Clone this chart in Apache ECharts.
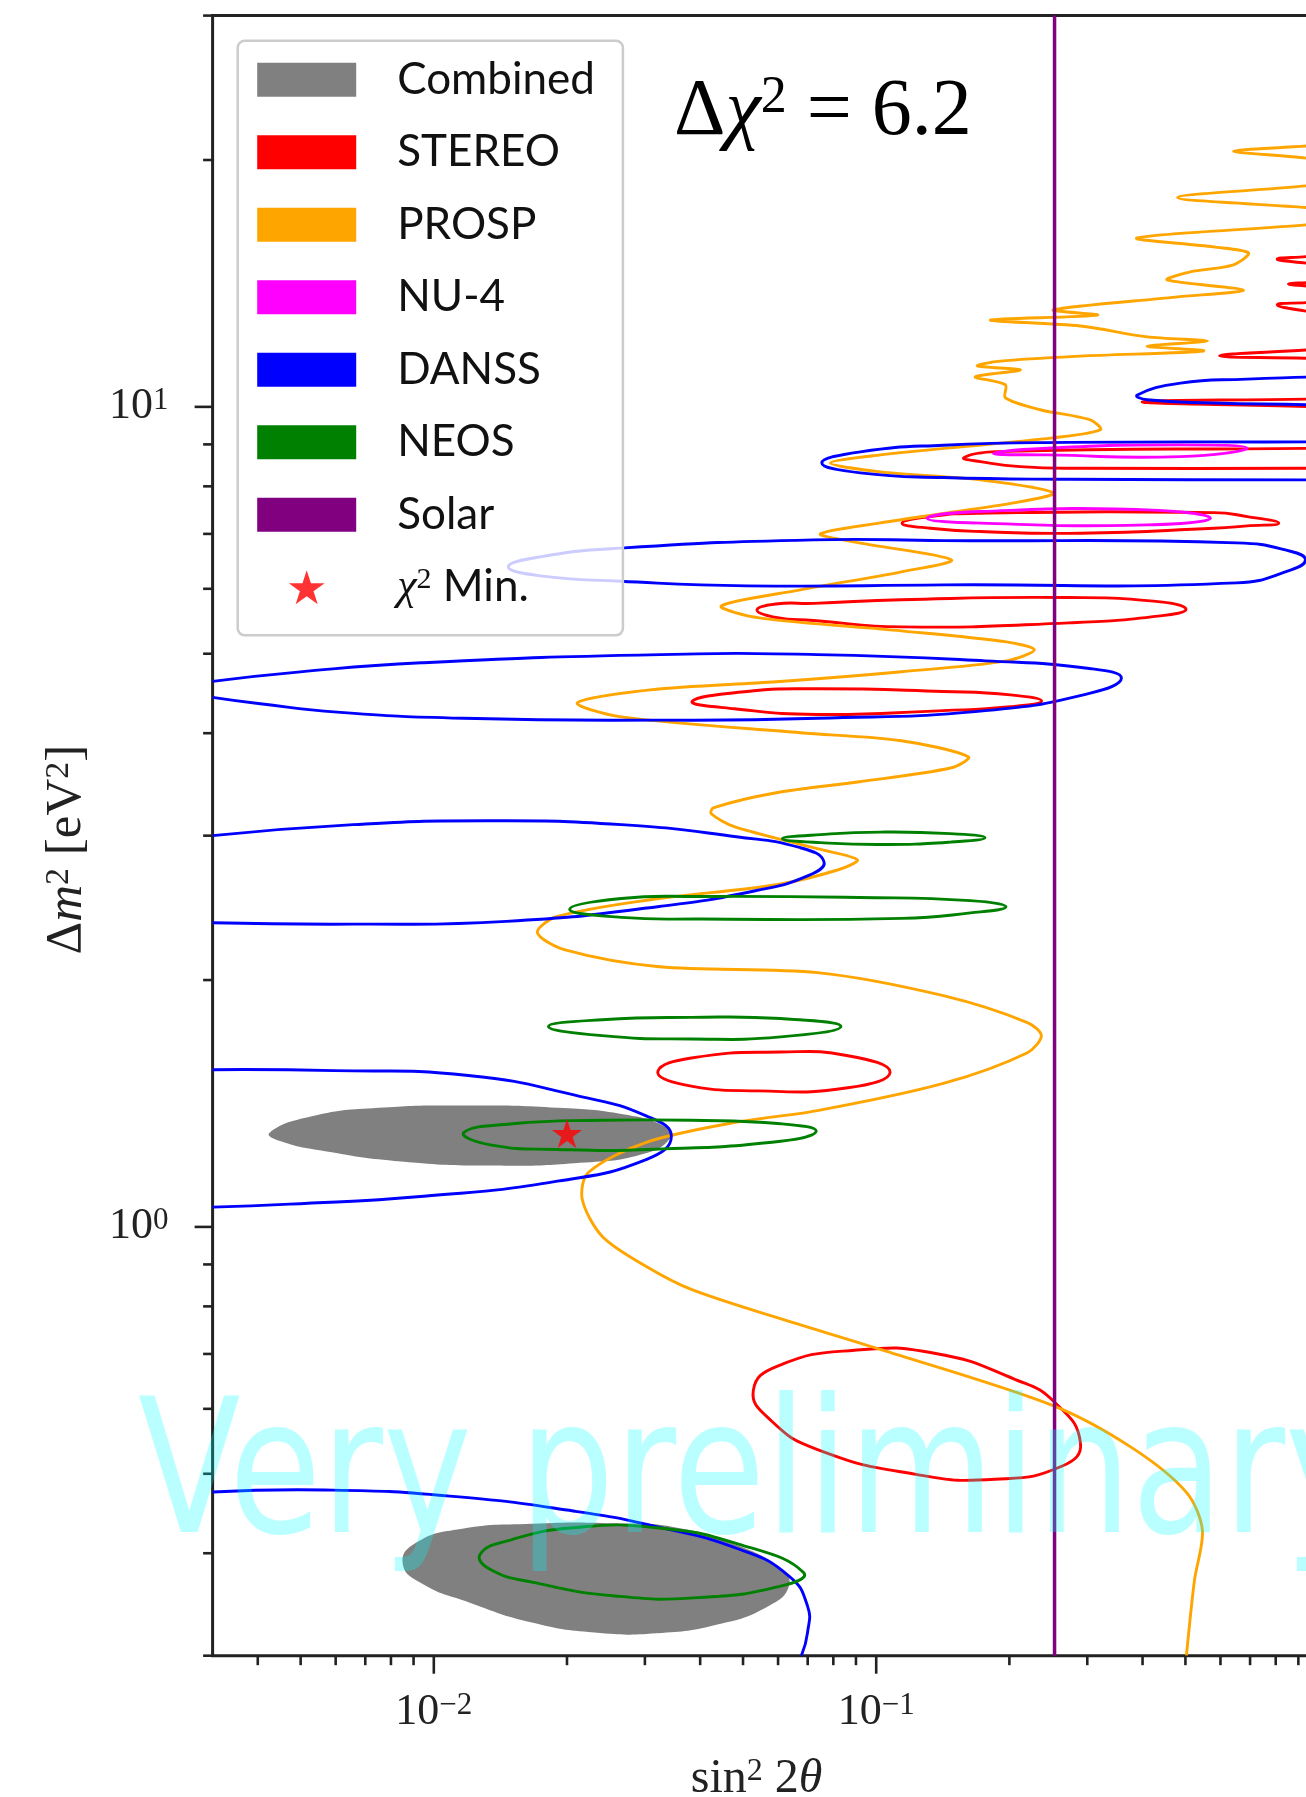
<!DOCTYPE html>
<html><head><meta charset="utf-8">
<script src="https://cdn.jsdelivr.net/npm/echarts@6/dist/echarts.min.js"></script>
<style>html,body{margin:0;padding:0;background:#fff}#c{width:1306px;height:1797px}</style>
</head><body><div id="c"></div>
<script>
// ---------- axis ranges & ticks ----------
const X_MIN = 0.003162, X_MAX = 1;
const Y_MIN = 0.3, Y_MAX = 30;
const X_MAJOR_TICKS = [0.01, 0.1];
const X_MINOR_TICKS = [0.004,0.005,0.006,0.007,0.008,0.009,0.02,0.03,0.04,0.05,0.06,0.07,0.08,0.09,0.2,0.3,0.4,0.5,0.6,0.7,0.8,0.9];
const Y_MAJOR_TICKS = [1, 10];
const Y_MINOR_TICKS = [0.3,0.4,0.5,0.6,0.7,0.8,0.9,2,3,4,5,6,7,8,9,20,30];

// ---------- single values ----------
const SOLAR_X = 0.253;
const CHI2_MIN = [0.02, 1.30];

// ---------- Combined (filled) ----------
const combinedA = [[0.00425,1.302],[0.0053,1.364],[0.00751,1.397],[0.01196,1.406],[0.01903,1.397],[0.02697,1.371],[0.03323,1.327],[0.03443,1.290],[0.03029,1.231],[0.02138,1.197],[0.01343,1.188],[0.00844,1.202],[0.00568,1.237],[0.00451,1.272]];
const combinedB = [[0.0085,0.3896],[0.00911,0.4119],[0.0113,0.4277],[0.01667,0.4346],[0.02567,0.435],[0.03548,0.4297],[0.04905,0.4081],[0.0608,0.3823],[0.06352,0.3648],[0.05702,0.3448],[0.04401,0.3277],[0.03185,0.3195],[0.02305,0.3201],[0.01667,0.3292],[0.01206,0.3481],[0.00931,0.3684]];

// ---------- STEREO ----------
const stereoA = [[0.99,15.28],[0.939,15.25],[0.806,15.14],[0.939,14.97],[0.99,14.94]];
const stereoB = [[0.99,14.18],[0.939,14.17],[0.855,14.12],[0.939,14.04],[0.99,14.03]];
const stereoC = [[0.99,13.41],[0.939,13.40],[0.806,13.32],[0.939,13.08],[0.99,13.07]];
const stereoD = [[0.99,11.73],[0.939,11.73],[0.597,11.54],[0.939,11.46],[0.99,11.45]];
const stereoE = [[0.99,10.22],[0.939,10.22],[0.399,10.14],[0.939,10.01],[0.99,10.0]];
const stereoF = [[0.99,8.91],[0.939,8.90],[0.1876,8.82],[0.1578,8.67],[0.172,8.576],[0.2118,8.455],[0.2895,8.417],[0.939,8.417],[0.99,8.417]];
const stereoG = [[0.1144,7.214],[0.1326,7.349],[0.172,7.419],[0.5794,7.431],[0.6894,7.349],[0.8126,7.214],[0.6894,7.159],[0.5794,7.112],[0.2895,7.014],[0.172,7.046],[0.1326,7.112]];
const stereoH = [[0.05377,5.652],[0.0593,5.749],[0.07224,5.760],[0.1140,5.819],[0.2725,5.854],[0.4389,5.783],[0.5016,5.664],[0.4389,5.561],[0.2725,5.453],[0.1140,5.391],[0.07224,5.489],[0.0593,5.536]];
const stereoI = [[0.03836,4.374],[0.05104,4.497],[0.07361,4.531],[0.1418,4.497],[0.2010,4.455],[0.2365,4.378],[0.2010,4.308],[0.1418,4.262],[0.07361,4.216],[0.04778,4.284]];
const stereoJ = [[0.0321,1.548],[0.0382,1.607],[0.06082,1.634],[0.08631,1.617],[0.1075,1.544],[0.08631,1.478],[0.05413,1.465],[0.03647,1.492]];
const stereoK = [[0.05275,0.632],[0.05985,0.6766],[0.08931,0.7074],[0.1363,0.7009],[0.2058,0.6518],[0.2528,0.6115],[0.2895,0.5454],[0.2634,0.511],[0.1857,0.4923],[0.123,0.4992],[0.07343,0.5355],[0.05747,0.5825]];

// ---------- PROSP ----------
const prosp = [[0.99,20.9],[0.939,20.8],[0.642,20.5],[0.939,20.1],[0.99,19.9],[0.99,18.7],[0.939,18.6],[0.480,18.0],[0.939,17.5],[0.99,17.45],[0.99,16.8],[0.939,16.67],[0.389,16.07],[0.5785,15.67],[0.694,15.41],[0.642,14.90],[0.513,14.61],[0.455,14.28],[0.676,13.88],[0.475,13.61],[0.2515,13.13],[0.3162,12.94],[0.1812,12.76],[0.2895,12.55],[0.410,12.17],[0.5607,12.03],[0.410,11.86],[0.5491,11.70],[0.2895,11.53],[0.1909,11.37],[0.1693,11.22],[0.2118,11.09],[0.1675,10.88],[0.1959,10.64],[0.1959,10.26],[0.235,9.92],[0.3049,9.64],[0.3212,9.376],[0.2502,9.165],[0.1471,8.912],[0.1022,8.739],[0.07877,8.544],[0.1022,8.332],[0.172,8.146],[0.2515,7.853],[0.2042,7.636],[0.1448,7.425],[0.1022,7.22],[0.07477,7.0],[0.0916,6.826],[0.1479,6.508],[0.114,6.293],[0.06738,5.982],[0.04465,5.719],[0.05442,5.53],[0.114,5.332],[0.1969,5.17],[0.2278,5.055],[0.1969,4.901],[0.114,4.753],[0.05945,4.621],[0.03086,4.518],[0.02111,4.356],[0.02654,4.188],[0.06738,4.005],[0.114,3.916],[0.1615,3.744],[0.1479,3.63],[0.0916,3.49],[0.05945,3.384],[0.04283,3.244],[0.04239,3.19],[0.04778,3.076],[0.07361,2.892],[0.09064,2.804],[0.0821,2.726],[0.05945,2.614],[0.03086,2.506],[0.01892,2.389],[0.01714,2.285],[0.01972,2.178],[0.03234,2.076],[0.07361,2.042],[0.1418,1.914],[0.2197,1.775],[0.2362,1.711],[0.2197,1.631],[0.1418,1.496],[0.07361,1.386],[0.04803,1.341],[0.03022,1.268],[0.02235,1.165],[0.02166,1.08],[0.02404,0.9735],[0.03022,0.8948],[0.0382,0.839],[0.05945,0.7755],[0.1022,0.709],[0.2502,0.6059],[0.3774,0.5385],[0.5026,0.4746],[0.5462,0.4267],[0.524,0.3707],[0.5026,0.3]];

// ---------- NU-4 ----------
const nu4A = [[0.1841,8.775],[0.2433,8.904],[0.4872,8.987],[0.6894,8.904],[0.4872,8.697],[0.2433,8.738]];
const nu4B = [[0.1303,7.315],[0.172,7.453],[0.4096,7.488],[0.5695,7.315],[0.4096,7.180],[0.172,7.214]];

// ---------- DANSS ----------
const danssA = [[0.99,10.88],[0.939,10.87],[0.6894,10.81],[0.4872,10.69],[0.3894,10.34],[0.4096,10.20],[0.5794,10.11],[0.939,10.06],[0.99,10.04]];
const danssB = [[0.99,9.063],[0.939,9.063],[0.2719,9.05],[0.1418,8.98],[0.0921,8.812],[0.07535,8.544],[0.0921,8.309],[0.1418,8.20],[0.2719,8.16],[0.939,8.146],[0.99,8.146]];
const danssC = [[0.01473,6.381],[0.01741,6.563],[0.0264,6.725],[0.0721,6.884],[0.1418,6.869],[0.652,6.825],[0.8637,6.667],[0.934,6.508],[0.8637,6.322],[0.652,6.101],[0.1418,6.067],[0.05112,6.050],[0.0264,6.129],[0.01741,6.222]];
const danssD = [[0.003162,4.627],[0.004991,4.752],[0.00937,4.874],[0.0325,4.988],[0.07361,4.988],[0.1765,4.901],[0.3033,4.797],[0.3583,4.669],[0.3033,4.473],[0.1765,4.262],[0.07361,4.171],[0.0325,4.149],[0.01166,4.171],[0.00605,4.244],[0.004053,4.344],[0.003162,4.423]];
const danssE = [[0.003162,3.000],[0.006576,3.094],[0.01321,3.128],[0.02654,3.094],[0.04828,2.991],[0.06738,2.900],[0.07618,2.789],[0.07062,2.685],[0.05329,2.570],[0.03234,2.459],[0.01458,2.358],[0.006576,2.340],[0.003162,2.349]];
const danssF = [[0.003162,1.555],[0.005956,1.551],[0.01196,1.530],[0.02137,1.443],[0.03029,1.365],[0.03443,1.290],[0.03029,1.209],[0.01903,1.137],[0.00949,1.090],[0.00472,1.066],[0.003162,1.057]];
const danssG = [[0.003162,0.475],[0.005667,0.4778],[0.01087,0.4696],[0.02067,0.4504],[0.03184,0.4311],[0.04904,0.4045],[0.0635,0.3752],[0.06995,0.3448],[0.06995,0.3201],[0.06774,0.3]];

// ---------- NEOS ----------
const neosA = [[0.06136,2.975],[0.07477,3.009],[0.1022,3.030],[0.1471,3.017],[0.1762,2.982],[0.1471,2.946],[0.1022,2.926],[0.07477,2.942]];
const neosB = [[0.02028,2.440],[0.02654,2.515],[0.04003,2.529],[0.0916,2.522],[0.1632,2.500],[0.1965,2.457],[0.1632,2.415],[0.1140,2.378],[0.04003,2.374],[0.02654,2.385]];
const neosC = [[0.01816,1.756],[0.02401,1.789],[0.0382,1.801],[0.06082,1.795],[0.08323,1.756],[0.06082,1.705],[0.0382,1.695],[0.02401,1.711]];
const neosD = [[0.01169,1.303],[0.01508,1.336],[0.02401,1.349],[0.0382,1.349],[0.06082,1.336],[0.07319,1.309],[0.06082,1.272],[0.03029,1.243],[0.01903,1.243],[0.01343,1.259]];
const neosE = [[0.01273,0.3989],[0.01496,0.4154],[0.02067,0.4297],[0.03184,0.4297],[0.04904,0.4102],[0.0685,0.3789],[0.06082,0.3648],[0.03949,0.3531],[0.02566,0.3548],[0.01667,0.3688],[0.01343,0.3821]];

// ---------- groupings ----------
const COMBINED_SHAPES = [{closed:true, pts:combinedA},{closed:true, pts:combinedB}];
const STEREO_SHAPES = [{closed:false,pts:stereoA},{closed:false,pts:stereoB},{closed:false,pts:stereoC},{closed:false,pts:stereoD},{closed:false,pts:stereoE},{closed:false,pts:stereoF},{closed:true,pts:stereoG},{closed:true,pts:stereoH},{closed:true,pts:stereoI},{closed:true,pts:stereoJ},{closed:true,pts:stereoK}];
const PROSP_SHAPES = [{closed:false, pts:prosp, smooth:0.3}];
const NU4_SHAPES = [{closed:true,pts:nu4A},{closed:true,pts:nu4B}];
const DANSS_SHAPES = [{closed:false,pts:danssA},{closed:false,pts:danssB},{closed:true,pts:danssC},{closed:false,pts:danssD},{closed:false,pts:danssE},{closed:false,pts:danssF},{closed:false,pts:danssG}];
const NEOS_SHAPES = [{closed:true,pts:neosA},{closed:true,pts:neosB},{closed:true,pts:neosC},{closed:true,pts:neosD},{closed:true,pts:neosE}];

const STAR = 'path://M50,0L61.2,34.5L97.6,34.5L68.2,55.9L79.4,90.5L50,69.1L20.6,90.5L31.8,55.9L2.4,34.5L38.8,34.5Z';
const SERIF = "Liberation Serif";
const SANS = "Lato";

function contourSeries(name, color, shapes, filled, z) {
  return {
    name: name, type: 'custom', coordinateSystem: 'cartesian2d', clip: true, silent: true, z: z,
    itemStyle: { color: color },
    data: shapes.map(s => [s.pts[0][0], s.pts[0][1]]),
    renderItem: function (params, api) {
      const s = shapes[params.dataIndex];
      const points = s.pts.map(p => api.coord(p));
      const sm = s.smooth != null ? s.smooth : 0.5;
      if (filled) {
        return { type: 'polygon', shape: { points: points, smooth: sm }, style: { fill: color, stroke: 'none' } };
      }
      return { type: s.closed ? 'polygon' : 'polyline', shape: { points: points, smooth: sm },
               style: { fill: 'none', stroke: color, lineWidth: 2.9 } };
    }
  };
}
function tickSeries(values, axis, len) {
  return {
    type: 'custom', coordinateSystem: 'cartesian2d', clip: false, silent: true, z: 12,
    data: values.map(v => axis === 'x' ? [v, Y_MIN] : [X_MIN, v]),
    renderItem: function (params, api) {
      const p = api.coord([api.value(0), api.value(1)]);
      const shape = axis === 'x' ? {x1:p[0], y1:p[1], x2:p[0], y2:p[1] + len}
                                 : {x1:p[0], y1:p[1], x2:p[0] - len, y2:p[1]};
      return { type: 'line', shape: shape, style: { stroke: '#222', lineWidth: 2.6 } };
    }
  };
}
function decadeLabel(v, allowed) {
  const l = Math.log10(v); const e = Math.round(l);
  if (Math.abs(l - e) > 1e-6 || allowed.indexOf(e) < 0) return '';
  return '{b|10}{s|' + (e < 0 ? '\u2212' + (-e) : e) + '}';
}
const labelRich = {
  b: { fontFamily: SERIF, fontSize: 44, lineHeight: 44, verticalAlign: 'bottom', color: '#222' },
  s: { fontFamily: SERIF, fontSize: 31, lineHeight: 14, verticalAlign: 'top', color: '#222' }
};

const chart = echarts.init(document.getElementById('c'), null, { renderer: 'canvas' });
chart.setOption({
  animation: false,
  backgroundColor: '#fff',
  title: {
    text: '{t|\u0394}{i|\u03c7}{s|2}{t| = 6.2}', left: 674, top: 72.5, padding: 0, z: 30,
    textStyle: { fontFamily: SERIF, fontSize: 80, fontWeight: 'normal', color: '#000',
      rich: {
        t: { fontFamily: SERIF, fontSize: 80, fontWeight: 'normal', lineHeight: 80, verticalAlign: 'bottom', color: '#000' },
        i: { fontFamily: SERIF, fontSize: 80, fontWeight: 'normal', fontStyle: 'italic', lineHeight: 80, verticalAlign: 'bottom', color: '#000' },
        s: { fontFamily: SERIF, fontSize: 52, fontWeight: 'normal', lineHeight: 36, verticalAlign: 'top', color: '#000' } } }
  },
  grid: { left: 212.6, top: 15.6, right: -12.6, bottom: 141.3, show: true, borderColor: '#222', borderWidth: 3,
          backgroundColor: 'transparent', containLabel: false, outerBoundsMode: 'none' },
  xAxis: {
    type: 'log', logBase: 10, min: X_MIN, max: X_MAX,
    axisLine: { show: false }, axisTick: { show: false }, minorTick: { show: false }, splitLine: { show: false },
    axisLabel: { margin: 35, formatter: v => decadeLabel(v, [-2, -1]), rich: labelRich, showMinLabel: true, showMaxLabel: true },
    name: '{t|sin}{s|2}{t| 2}{i|\u03b8}', nameLocation: 'middle', nameGap: 100,
    nameTextStyle: { padding: [0, 18, 0, 0], rich: {
      t: { fontFamily: SERIF, fontSize: 48, lineHeight: 48, verticalAlign: 'bottom', color: '#222' },
      i: { fontFamily: SERIF, fontSize: 48, fontStyle: 'italic', lineHeight: 48, verticalAlign: 'bottom', color: '#222' },
      s: { fontFamily: SERIF, fontSize: 32, lineHeight: 16, verticalAlign: 'top', color: '#222' } } }
  },
  yAxis: {
    type: 'log', logBase: 10, min: Y_MIN, max: Y_MAX,
    axisLine: { show: false }, axisTick: { show: false }, minorTick: { show: false }, splitLine: { show: false },
    axisLabel: { margin: 44, formatter: v => decadeLabel(v, [0, 1]), rich: labelRich },
    name: '{t|\u0394}{i|m}{s|2}{t| [eV}{s|2}{t|]}', nameLocation: 'middle', nameRotate: 90, nameGap: 120,
    nameTextStyle: { padding: [0, 28, 0, 0], rich: {
      t: { fontFamily: SERIF, fontSize: 51, lineHeight: 51, verticalAlign: 'bottom', color: '#222' },
      i: { fontFamily: SERIF, fontSize: 51, fontStyle: 'italic', lineHeight: 51, verticalAlign: 'bottom', color: '#222' },
      s: { fontFamily: SERIF, fontSize: 34, lineHeight: 17, verticalAlign: 'top', color: '#222' } } }
  },
  legend: {
    orient: 'vertical', left: 237.7, top: 40.8, padding: [17, 28, 26, 19.5],
    itemWidth: 99, itemHeight: 34, itemGap: 28.5, selectedMode: false, z: 20,
    backgroundColor: 'rgba(255,255,255,0.8)', borderColor: '#cccccc', borderWidth: 2.5, borderRadius: 7,
    itemStyle: { borderWidth: 0 },
    textStyle: { fontFamily: SANS, fontSize: 44, color: '#111', padding: [0, 0, 0, 36],
      rich: {
        g: { fontFamily: SERIF, fontStyle: 'italic', fontSize: 44, color: '#111' },
        s: { fontFamily: SERIF, fontSize: 30, lineHeight: 14, verticalAlign: 'top', color: '#111' },
        t: { fontFamily: SANS, fontSize: 44, color: '#111' } } },
    formatter: function (name) { return name === '\u03c7\u00b2 Min.' ? '{g|\u03c7}{s|2}{t| Min.}' : name; },
    data: [
      { name: 'Combined', icon: 'rect' }, { name: 'STEREO', icon: 'rect' }, { name: 'PROSP', icon: 'rect' },
      { name: 'NU-4', icon: 'rect' }, { name: 'DANSS', icon: 'rect' }, { name: 'NEOS', icon: 'rect' },
      { name: 'Solar', icon: 'rect' }, { name: '\u03c7\u00b2 Min.', icon: STAR }
    ]
  },
  graphic: [
    { type: 'text', x: 138, y: 1483, scaleY: 1.245, z: 100, silent: true,
      style: { text: 'Very preliminary', font: "150px 'DejaVu Sans'", fontFamily: "DejaVu Sans", fontSize: 150,
               fill: 'rgba(0,255,255,0.27)', align: 'left', verticalAlign: 'middle' } }
  ],
  series: [
    contourSeries('Combined', '#808080', COMBINED_SHAPES, true, 2),
    contourSeries('STEREO', '#ff0000', STEREO_SHAPES, false, 3),
    contourSeries('PROSP', '#ffa500', PROSP_SHAPES, false, 4),
    contourSeries('NU-4', '#ff00ff', NU4_SHAPES, false, 5),
    contourSeries('DANSS', '#0000ff', DANSS_SHAPES, false, 6),
    contourSeries('NEOS', '#008000', NEOS_SHAPES, false, 7),
    { name: 'Solar', type: 'line', silent: true, z: 8, showSymbol: false, symbol: 'none',
      itemStyle: { color: '#800080' }, lineStyle: { color: '#800080', width: 3.5 },
      data: [[SOLAR_X, Y_MIN], [SOLAR_X, Y_MAX]] },
    { name: '\u03c7\u00b2 Min.', type: 'scatter', silent: true, z: 9, symbol: STAR, symbolSize: [30, 29],
      itemStyle: { color: '#ff0000' }, data: [CHI2_MIN] },
    tickSeries(X_MAJOR_TICKS, 'x', 18), tickSeries(X_MINOR_TICKS, 'x', 9.5),
    tickSeries(Y_MAJOR_TICKS, 'y', 18), tickSeries(Y_MINOR_TICKS, 'y', 9.5)
  ]
});
</script></body></html>
